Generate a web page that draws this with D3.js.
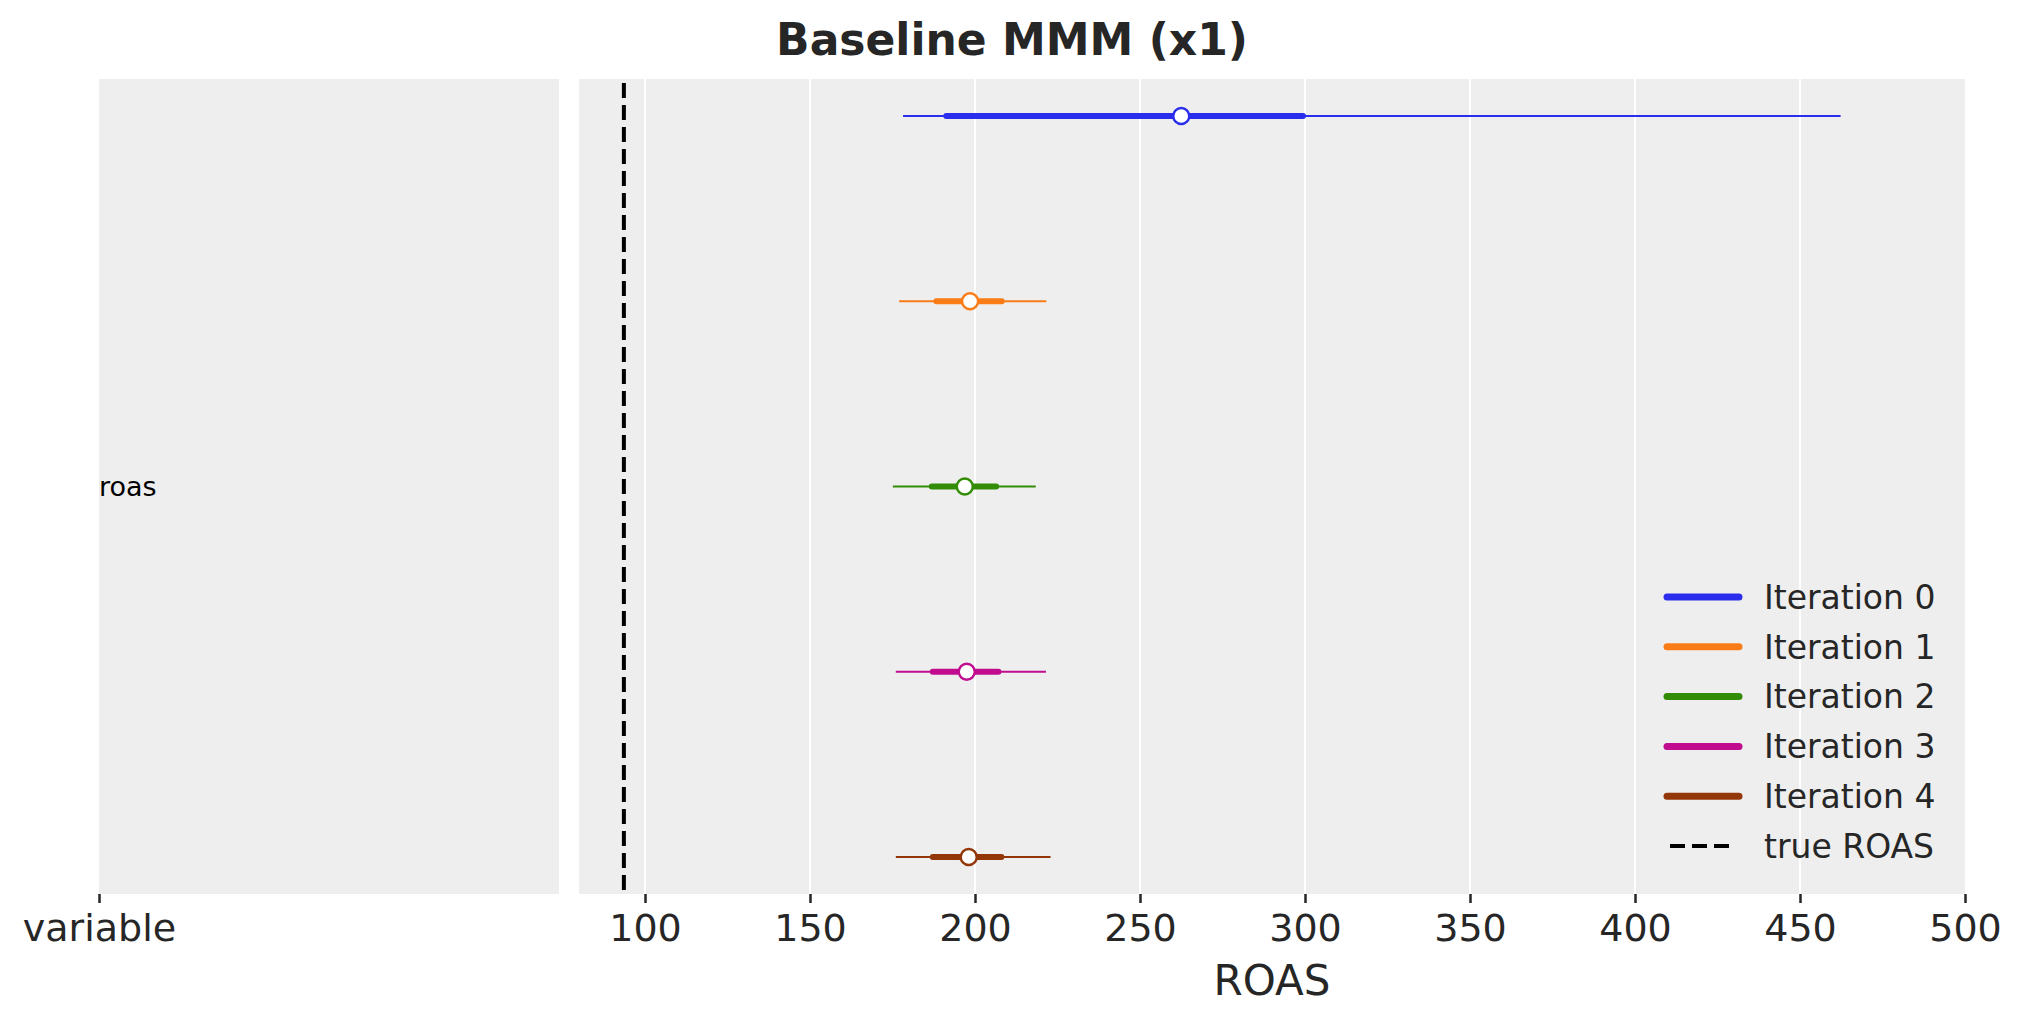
<!DOCTYPE html>
<html>
<head>
<meta charset="utf-8">
<script src="https://cdn.jsdelivr.net/npm/d3@7"></script>
<style>
  body { margin: 0; background: #fff; }
  svg { display: block; }
  text { font-family: "DejaVu Sans", sans-serif; }
</style>
</head>
<body>
<svg id="chart" width="2023" height="1023"></svg>
<script>
// ---- data ----
const iterations = ["Iteration 0", "Iteration 1", "Iteration 2", "Iteration 3", "Iteration 4"];
const colors = ["#2a2eec", "#fa7c17", "#328c06", "#c10c90", "#933708"];
const medians = [262.5, 198.5, 196.9, 197.5, 198.1];
const hdiLow = [178.2, 177.0, 175.1, 176.0, 176.0];
const hdiHigh = [462.3, 221.6, 218.4, 221.5, 222.9];
const iqrLow = [191.3, 188.3, 186.9, 187.2, 187.2];
const iqrHigh = [299.4, 208.1, 206.4, 207.1, 208.0];
const trueRoas = 93.6;
const xTicks = [100, 150, 200, 250, 300, 350, 400, 450, 500];
const xDomain = [80, 500];
const leftTickLabels = ["variable"];
const varLabels = ["roas"];
const legendLabels = iterations.concat(["true ROAS"]);
const titleText = "Baseline MMM (x1)";
const xLabelText = "ROAS";

// ---- layout ----
const svg = d3.select("#chart");
const plotTop = 79, plotBottom = 894;
const leftPanel = { x0: 99, x1: 559 };
const rightPanel = { x0: 579, x1: 1965 };
const textColor = "#262626";
const bg = "#eeeeee";

// title
svg.append("text").attr("x", 1012).attr("y", 55)
  .attr("text-anchor", "middle").attr("font-size", 44).attr("font-weight", "bold")
  .attr("fill", textColor).text(titleText);

// left panel
svg.append("rect").attr("x", leftPanel.x0).attr("y", plotTop)
  .attr("width", leftPanel.x1 - leftPanel.x0).attr("height", plotBottom - plotTop).attr("fill", bg);

const xLeft = d3.scalePoint().domain(leftTickLabels).range([leftPanel.x0, leftPanel.x0]);
const leftAxis = svg.append("g").attr("transform", `translate(0,${plotBottom})`)
  .call(d3.axisBottom(xLeft).tickSize(9).tickPadding(11));
leftAxis.select(".domain").remove();
leftAxis.selectAll("line").attr("stroke", textColor).attr("stroke-width", 2.5);
leftAxis.selectAll("text").attr("font-size", 38).attr("fill", textColor)
  .attr("font-family", "DejaVu Sans, sans-serif");

svg.selectAll(".varlabel").data(varLabels).enter().append("text")
  .attr("x", leftPanel.x0).attr("y", (plotTop + plotBottom) / 2)
  .attr("dy", "0.35em").attr("font-size", 27).attr("fill", "#000").text(d => d);

// right panel
svg.append("rect").attr("x", rightPanel.x0).attr("y", plotTop)
  .attr("width", rightPanel.x1 - rightPanel.x0).attr("height", plotBottom - plotTop).attr("fill", bg);

const x = d3.scaleLinear().domain(xDomain).range([rightPanel.x0, rightPanel.x1]);
const y = d3.scalePoint().domain(iterations).range([plotTop, plotBottom]).padding(0.2);

// grid
svg.append("g").selectAll("line").data(xTicks.filter(t => t < xDomain[1])).enter().append("line")
  .attr("x1", d => x(d)).attr("x2", d => x(d)).attr("y1", plotTop).attr("y2", plotBottom)
  .attr("stroke", "#fff").attr("stroke-width", 2);

const xAxis = svg.append("g").attr("transform", `translate(0,${plotBottom})`)
  .call(d3.axisBottom(x).tickValues(xTicks).tickFormat(d3.format("d")).tickSize(9).tickPadding(11));
xAxis.select(".domain").remove();
xAxis.selectAll("line").attr("stroke", textColor).attr("stroke-width", 2.5);
xAxis.selectAll("text").attr("font-size", 38).attr("fill", textColor)
  .attr("font-family", "DejaVu Sans, sans-serif");

svg.append("text").attr("x", (rightPanel.x0 + rightPanel.x1) / 2).attr("y", 995)
  .attr("text-anchor", "middle").attr("font-size", 42).attr("fill", textColor).text(xLabelText);

// true ROAS
svg.append("line").attr("x1", x(trueRoas)).attr("x2", x(trueRoas))
  .attr("y1", plotTop + 4).attr("y2", plotBottom)
  .attr("stroke", "#000").attr("stroke-width", 4).attr("stroke-dasharray", "15,7");

// forest marks
const rows = svg.append("g").selectAll("g").data(iterations).enter().append("g");
rows.append("line")
  .attr("x1", (d, i) => x(hdiLow[i])).attr("x2", (d, i) => x(hdiHigh[i]))
  .attr("y1", d => y(d)).attr("y2", d => y(d))
  .attr("stroke", (d, i) => colors[i]).attr("stroke-width", 1.9);
rows.append("line")
  .attr("x1", (d, i) => x(iqrLow[i])).attr("x2", (d, i) => x(iqrHigh[i]))
  .attr("y1", d => y(d)).attr("y2", d => y(d))
  .attr("stroke", (d, i) => colors[i]).attr("stroke-width", 6).attr("stroke-linecap", "round");
rows.append("circle")
  .attr("cx", (d, i) => x(medians[i])).attr("cy", d => y(d)).attr("r", 8)
  .attr("fill", "#fff").attr("stroke", (d, i) => colors[i]).attr("stroke-width", 2.4);

// legend
const legY = d3.scalePoint().domain(legendLabels).range([597, 846]);
const leg = svg.append("g").selectAll("g").data(legendLabels).enter().append("g");
leg.append("line")
  .attr("x1", (d, i) => i < iterations.length ? 1667 : 1670)
  .attr("x2", (d, i) => i < iterations.length ? 1739 : 1736)
  .attr("y1", d => legY(d)).attr("y2", d => legY(d))
  .attr("stroke", (d, i) => i < iterations.length ? colors[i] : "#000")
  .attr("stroke-width", (d, i) => i < iterations.length ? 7 : 4)
  .attr("stroke-linecap", (d, i) => i < iterations.length ? "round" : "butt")
  .attr("stroke-dasharray", (d, i) => i < iterations.length ? null : "15,7");
leg.append("text").attr("x", 1764).attr("y", d => legY(d)).attr("dy", "0.36em")
  .attr("font-size", 33).attr("fill", textColor).text(d => d);
</script>
</body>
</html>
